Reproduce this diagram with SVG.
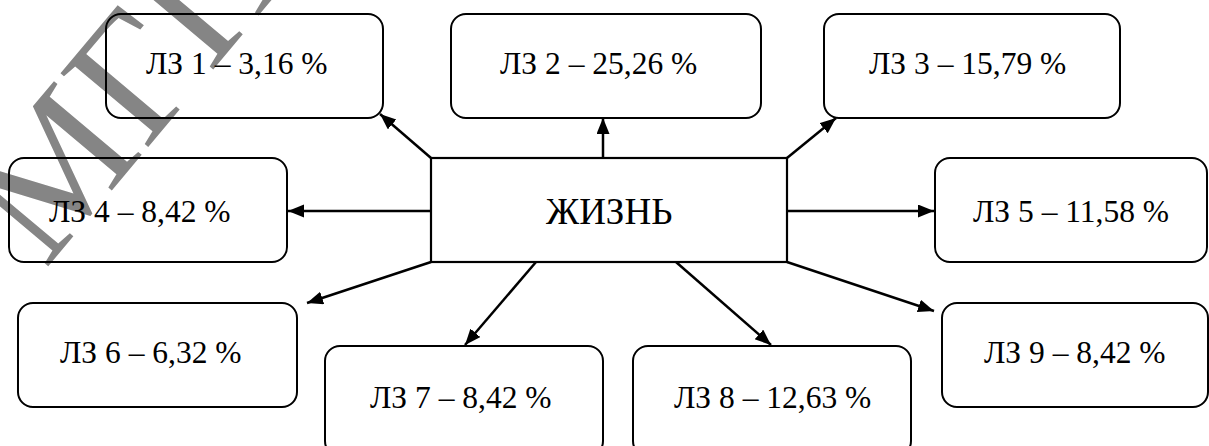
<svg xmlns="http://www.w3.org/2000/svg" width="1209" height="446" viewBox="0 0 1209 446">
<style>
.box{fill:none;stroke:#000;stroke-width:2}
.center{fill:none;stroke:#000;stroke-width:2.2}
.lbl{font-family:"Liberation Serif","Times New Roman",serif;font-size:31.5px;fill:#000}
.main{font-family:"Liberation Serif","Times New Roman",serif;font-size:37px;fill:#000}
.con{stroke:#000;stroke-width:2.5;fill:none;marker-end:url(#arr)}
.wm{font-family:"Liberation Serif","Times New Roman",serif;font-size:175px;fill:#858585}
</style>
<defs>
<marker id="arr" markerUnits="userSpaceOnUse" markerWidth="17" markerHeight="14" refX="16" refY="6.5" orient="auto">
<path d="M0,0 L16,6.5 L0,13 z" fill="#000"/>
</marker>
</defs>
<rect width="1209" height="446" fill="#fff"/>
<text class="wm" transform="translate(45,270) rotate(-50)">МГПУ</text>
<g id="connectors">
<line class="con" x1="431" y1="158" x2="380" y2="114"/>
<line class="con" x1="603" y1="158" x2="603" y2="118"/>
<line class="con" x1="787" y1="158" x2="836" y2="118"/>
<line class="con" x1="431" y1="211" x2="288" y2="211"/>
<line class="con" x1="787" y1="211" x2="934" y2="211"/>
<line class="con" x1="431" y1="262" x2="307" y2="303"/>
<line class="con" x1="536" y1="262" x2="465" y2="345"/>
<line class="con" x1="676" y1="262" x2="771" y2="345"/>
<line class="con" x1="787" y1="262" x2="934" y2="311"/>
</g>
<g id="center">
<rect class="center" x="431" y="158" width="356" height="104"/>
<text class="main" x="546" y="224">ЖИЗНЬ</text>
</g>
<g id="lz1">
<rect class="box" x="106" y="14" width="277" height="104" rx="15"/>
<text class="lbl" x="146" y="74">ЛЗ 1 – 3,16 %</text>
</g>
<g id="lz2">
<rect class="box" x="451" y="14" width="310" height="104" rx="15"/>
<text class="lbl" x="500" y="74">ЛЗ 2 – 25,26 %</text>
</g>
<g id="lz3">
<rect class="box" x="824" y="14" width="296" height="104" rx="15"/>
<text class="lbl" x="869" y="74">ЛЗ 3 – 15,79 %</text>
</g>
<g id="lz4">
<rect class="box" x="9" y="158" width="278" height="104" rx="15"/>
<text class="lbl" x="49" y="222">ЛЗ 4 – 8,42 %</text>
</g>
<g id="lz5">
<rect class="box" x="935" y="158" width="272" height="104" rx="15"/>
<text class="lbl" x="973" y="222">ЛЗ 5 – 11,58 %</text>
</g>
<g id="lz6">
<rect class="box" x="18" y="303" width="279" height="104" rx="15"/>
<text class="lbl" x="60" y="363">ЛЗ 6 – 6,32 %</text>
</g>
<g id="lz7">
<rect class="box" x="325" y="346" width="278" height="110" rx="15"/>
<text class="lbl" x="370" y="408">ЛЗ 7 – 8,42 %</text>
</g>
<g id="lz8">
<rect class="box" x="633" y="346" width="278" height="110" rx="15"/>
<text class="lbl" x="674" y="408">ЛЗ 8 – 12,63 %</text>
</g>
<g id="lz9">
<rect class="box" x="942" y="303" width="266" height="104" rx="15"/>
<text class="lbl" x="984" y="363">ЛЗ 9 – 8,42 %</text>
</g>
</svg>
